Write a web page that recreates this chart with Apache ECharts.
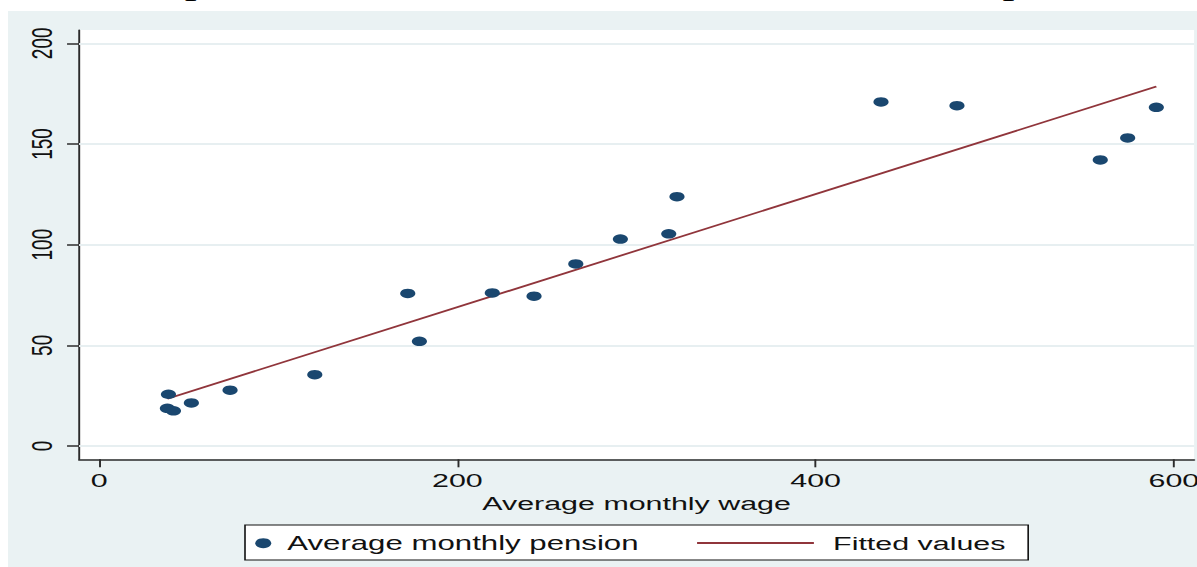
<!DOCTYPE html>
<html>
<head>
<meta charset="utf-8">
<script src="https://cdn.jsdelivr.net/npm/echarts@6/dist/echarts.min.js"></script>
<style>
  html, body { margin: 0; padding: 0; background: #fff; overflow: hidden; }
  #wrap { width: 1197px; height: 567px; overflow: hidden; position: relative; }
  /* the chart is laid out narrow and widened horizontally */
  #chart { width: 748px; height: 567px; transform: scaleX(1.60027); transform-origin: 0 0; }
</style>
</head>
<body>
<div id="wrap"><div id="chart"></div></div>
<script>
// Average monthly wage (x) and average monthly pension (y), one entry per country
const wage    = [38.7, 38.1, 41.5, 51.5, 73.1, 120.4, 172.3, 178.8, 219.5, 242.8,
                 266.1, 291.0, 318.0, 322.6, 436.5, 478.9, 558.9, 574.2, 590.2];
const pension = [25.7, 18.7, 17.5, 21.4, 27.7, 35.4, 75.8, 52.0, 76.0, 74.4,
                 90.4, 102.8, 105.4, 123.8, 170.9, 169.0, 142.1, 153.0, 168.2];

// Fitted regression line, end points
const fitWage    = [38.1, 590.2];
const fitPension = [23.5, 178.5];

// Tick values
const xTicks = [0, 200, 400, 600];
const yTicks = [0, 50, 100, 150, 200];

const FONT = '"Liberation Sans", Arial, sans-serif';
const NAVY = '#1a476f';
const MAROON = '#90353b';
const AXIS = '#2b2b2b';

const chart = echarts.init(document.getElementById('chart'), null, { renderer: 'svg' });

chart.setOption({
  animation: false,
  backgroundColor: '#ffffff',
  textStyle: { fontFamily: FONT },
  graphic: [
    { type: 'rect', z: -10, silent: true,
      shape: { x: 5, y: 11, width: 760, height: 560 },
      style: { fill: '#eaf2f3' } },
    { type: 'rect', z: 1, silent: true,
      shape: { x: 153.1, y: 525, width: 489.4, height: 35 },
      style: { fill: '#ffffff', stroke: '#111', lineWidth: 1 } },
    // descenders of the caption line above the figure
    { type: 'text', x: 123, y: -15, silent: true,
      style: { text: 'p', font: '30px "Liberation Serif", serif', fill: '#000',
               align: 'center', verticalAlign: 'middle' } },
    { type: 'text', x: 634, y: -15, silent: true,
      style: { text: 'p', font: '30px "Liberation Serif", serif', fill: '#000',
               align: 'center', verticalAlign: 'middle' } }
  ],
  grid: {
    left: 49.4, right: 1.8, top: 30, bottom: 107.7,
    show: true, backgroundColor: '#ffffff', borderWidth: 0,
    containLabel: false, outerBoundsMode: 'none'
  },
  legend: [
    {
      data: ['Average monthly pension'],
      left: 159.5, top: 533.2, padding: 0, itemGap: 0,
      icon: 'circle', itemWidth: 20, itemHeight: 10,
      textStyle: { fontSize: 19.5, color: '#111', fontFamily: FONT },
      selectedMode: false, z: 5
    },
    {
      data: ['Fitted values'],
      left: 435.6, top: 533.5, padding: 0, itemGap: 0,
      icon: 'rect', itemWidth: 73, itemHeight: 2,
      textStyle: { fontSize: 19, color: '#111', fontFamily: FONT, padding: [0, 0, 0, 7] },
      selectedMode: false, z: 5
    }
  ],
  xAxis: {
    type: 'value', min: -11.2, max: 611.3,
    axisLine: { show: true, onZero: false, lineStyle: { color: AXIS, width: 1.5 } },
    axisTick: { show: true, length: 8, customValues: xTicks, lineStyle: { color: AXIS, width: 1.2 } },
    axisLabel: { customValues: xTicks, fontSize: 19, color: '#111', margin: 11, fontFamily: FONT },
    splitLine: { show: false },
    name: 'Average monthly wage', nameLocation: 'middle', nameGap: 31,
    nameTextStyle: { fontSize: 19, color: '#111', fontFamily: FONT }
  },
  yAxis: {
    type: 'value', min: -6.6, max: 206.6,
    axisLine: { show: true, onZero: false, lineStyle: { color: AXIS, width: 1.2 } },
    axisTick: { show: true, length: 7.5, customValues: yTicks, lineStyle: { color: AXIS, width: 1.5 } },
    axisLabel: { customValues: yTicks, rotate: 90, fontSize: 19, color: '#111', margin: 14, fontFamily: FONT },
    splitLine: { show: false }
  },
  series: [
    {
      // horizontal grid lines at the y ticks, kept beneath the data
      name: 'grid', type: 'line', data: [], z: 1, silent: true,
      markLine: {
        silent: true, symbol: 'none', label: { show: false }, z: 1,
        lineStyle: { color: '#e7eff1', width: 2, type: 'solid' },
        data: yTicks.map(v => ({ yAxis: v }))
      }
    },
    {
      name: 'Fitted values', type: 'line', z: 3,
      data: fitWage.map((w, i) => [w, fitPension[i]]),
      showSymbol: false, symbol: 'none',
      lineStyle: { color: MAROON, width: 1.7 },
      itemStyle: { color: MAROON }
    },
    {
      name: 'Average monthly pension', type: 'scatter', z: 4,
      data: wage.map((w, i) => [w, pension[i]]),
      symbol: 'circle', symbolSize: 9.5,
      itemStyle: { color: NAVY, opacity: 1 }
    }
  ]
});
</script>
</body>
</html>
